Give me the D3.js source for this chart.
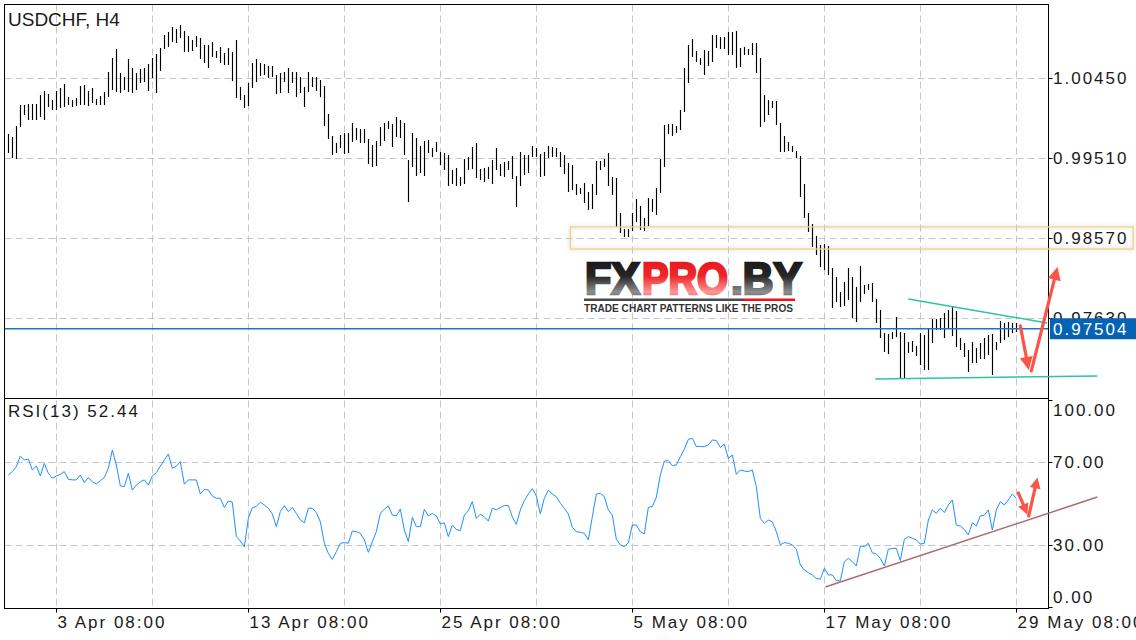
<!DOCTYPE html>
<html><head><meta charset="utf-8">
<script src="https://cdn.jsdelivr.net/npm/d3@7"></script>
<style>
html,body{margin:0;padding:0;background:#fff;}
svg{display:block;}
text{font-family:"Liberation Sans",Arial,sans-serif;}
</style></head><body>
<svg id="c" width="1136" height="640"></svg>
<script>
const symbolTitle = "USDCHF, H4";
const rsiTitle = "RSI(13) 52.44";

const highs = [
0.99792,0.99757,0.99886,1.00133,1.00133,1.00145,1.00145,1.00145,1.00251,1.00298,
1.00263,1.00192,1.00298,1.00333,1.00380,1.00227,1.00192,1.00216,1.00356,1.00368,
1.00298,1.00333,1.00204,1.00239,1.00286,1.00521,1.00686,1.00791,1.00509,1.00462,
1.00674,1.00568,1.00509,1.00556,1.00568,1.00615,1.00686,1.00733,1.00803,1.00956,
1.00991,1.01050,1.01026,1.01073,1.01003,1.00944,1.00897,1.00944,1.00921,1.00838,
1.00838,1.00874,1.00768,1.00815,1.00745,1.00803,1.00756,1.00897,1.00345,1.00251,
1.00392,1.00627,1.00674,1.00627,1.00615,1.00592,1.00592,1.00486,1.00509,1.00521,
1.00568,1.00521,1.00521,1.00462,1.00345,1.00521,1.00462,1.00462,1.00427,1.00356,
1.00028,0.99769,0.99687,0.99781,0.99804,0.99804,0.99922,0.99863,0.99851,0.99851,
0.99734,0.99663,0.99710,0.99875,0.99922,0.99945,0.99910,0.99992,0.99957,0.99922,
0.99487,0.99804,0.99745,0.99651,0.99710,0.99722,0.99628,0.99698,0.99581,0.99569,
0.99546,0.99370,0.99393,0.99288,0.99499,0.99522,0.99640,0.99687,0.99381,0.99393,
0.99405,0.99487,0.99628,0.99440,0.99464,0.99475,0.99534,0.99299,0.99581,0.99546,
0.99546,0.99651,0.99628,0.99557,0.99581,0.99651,0.99640,0.99628,0.99581,0.99546,
0.99452,0.99428,0.99205,0.99158,0.99217,0.99111,0.99205,0.99475,0.99475,0.99499,
0.99569,0.99288,0.99276,0.98865,0.98676,0.98676,0.98865,0.99029,0.98947,0.98806,
0.99041,0.99029,0.99158,0.99499,0.99898,0.99910,0.99910,0.99886,1.00075,1.00568,
1.00838,1.00909,1.00768,1.00686,1.00780,1.00768,1.00956,1.00956,1.00932,1.00932,
1.00991,1.00991,1.01003,1.00803,1.00815,1.00791,1.00862,1.00862,1.00686,1.00251,
1.00192,1.00180,1.00180,0.99922,0.99769,0.99698,0.99651,0.99593,0.99534,0.99205,
0.98865,0.98735,0.98594,0.98488,0.98500,0.98477,0.98218,0.98112,0.97936,0.98054,
0.98218,0.98112,0.97995,0.98242,0.98019,0.98030,0.98042,0.97854,0.97725,0.97454,
0.97442,0.97466,0.97642,0.97466,0.97454,0.97348,0.97360,0.97301,0.97454,0.97430,
0.97513,0.97618,0.97618,0.97630,0.97689,0.97725,0.97760,0.97713,0.97395,0.97337,
0.97254,0.97348,0.97278,0.97337,0.97395,0.97430,0.97442,0.97348,0.97595,0.97572,
0.97583,0.97572,0.97572];

const lows = [
0.99569,0.99510,0.99499,0.99875,1.00016,0.99957,0.99957,0.99957,0.99992,0.99957,
1.00110,1.00075,1.00075,1.00098,1.00110,1.00133,1.00110,1.00121,1.00133,1.00133,
1.00121,1.00157,1.00133,1.00133,1.00133,1.00227,1.00310,1.00286,1.00274,1.00310,
1.00286,1.00274,1.00310,1.00392,1.00404,1.00298,1.00451,1.00274,1.00533,1.00791,
1.00815,1.00874,1.00862,1.00921,1.00756,1.00756,1.00768,1.00815,1.00674,1.00627,
1.00568,1.00698,1.00686,1.00627,1.00603,1.00603,1.00415,1.00216,1.00192,1.00098,
1.00121,1.00333,1.00404,1.00474,1.00486,1.00451,1.00462,1.00263,1.00274,1.00404,
1.00274,1.00392,1.00227,1.00274,1.00110,1.00286,1.00345,1.00298,1.00227,0.99886,
0.99734,0.99546,0.99569,0.99628,0.99557,0.99569,0.99698,0.99722,0.99687,0.99687,
0.99440,0.99405,0.99417,0.99651,0.99710,0.99851,0.99640,0.99757,0.99745,0.99546,
0.98994,0.99405,0.99299,0.99334,0.99299,0.99569,0.99522,0.99581,0.99428,0.99370,
0.99182,0.99205,0.99182,0.99182,0.99205,0.99370,0.99381,0.99276,0.99252,0.99229,
0.99264,0.99205,0.99370,0.99299,0.99288,0.99370,0.99264,0.98935,0.99182,0.99311,
0.99334,0.99522,0.99522,0.99288,0.99299,0.99510,0.99522,0.99522,0.99405,0.99323,
0.99111,0.99135,0.99076,0.99088,0.98982,0.98900,0.98912,0.99076,0.99370,0.99405,
0.99182,0.99076,0.98700,0.98629,0.98582,0.98582,0.98653,0.98758,0.98665,0.98653,
0.98711,0.98876,0.98841,0.99100,0.99405,0.99792,0.99769,0.99804,0.99840,1.00051,
1.00392,1.00698,1.00639,1.00603,1.00486,1.00592,1.00639,1.00803,1.00791,1.00791,
1.00721,1.00721,1.00568,1.00580,1.00721,1.00721,1.00721,1.00509,0.99875,0.99933,
1.00016,1.00098,0.99898,0.99581,0.99581,0.99593,0.99581,0.99510,0.99053,0.98806,
0.98641,0.98465,0.98371,0.98230,0.98195,0.98136,0.97748,0.97819,0.97760,0.97772,
0.97842,0.97630,0.97583,0.97819,0.97913,0.97960,0.97819,0.97572,0.97395,0.97231,
0.97207,0.97383,0.97407,0.96926,0.96926,0.97219,0.97231,0.97184,0.97078,0.97019,
0.97019,0.97337,0.97490,0.97490,0.97395,0.97513,0.97419,0.97290,0.97254,0.97172,
0.96996,0.97101,0.97101,0.97148,0.97148,0.97196,0.96961,0.97254,0.97337,0.97372,
0.97407,0.97454,0.97466];

const rsi = [
63.8,65.4,67.8,72.9,71.0,71.5,66.2,68.1,63.3,69.4,
64.6,62.2,63.3,64.1,65.4,61.7,61.4,61.4,63.8,60.1,
62.6,60.5,59.4,61.0,62.6,67.0,75.8,68.6,58.5,58.1,
64.6,56.5,58.9,60.5,61.4,58.9,63.3,64.9,68.1,71.0,
73.9,67.0,68.1,70.2,59.3,61.4,61.4,61.4,54.6,56.8,
56.5,53.6,52.5,52.5,48.1,51.2,50.6,34.0,31.9,29.1,
42.8,48.0,48.5,50.6,49.3,47.7,44.9,38.8,46.1,49.0,
46.1,48.1,45.2,42.0,40.7,47.7,47.7,45.6,41.2,30.8,
25.9,23.0,26.7,30.8,31.1,30.8,36.7,36.4,35.6,32.4,
26.4,31.6,36.4,45.2,47.2,48.8,44.4,44.0,47.3,37.2,
31.6,43.3,38.8,38.8,47.2,44.0,45.2,44.0,40.1,40.7,
34.0,39.6,37.5,36.9,44.4,46.5,50.9,42.8,44.8,43.6,
41.5,47.7,46.9,48.1,49.0,49.0,43.6,39.9,46.9,51.4,
54.6,57.2,53.6,44.9,52.5,56.5,54.6,53.3,50.1,47.7,
44.9,38.5,36.4,36.1,35.6,32.4,43.6,54.6,54.9,53.3,
46.9,44.4,32.7,30.0,29.1,31.1,39.6,39.6,36.4,35.3,
48.1,48.5,53.0,63.8,70.5,70.7,68.3,68.6,72.6,76.2,
81.0,81.5,77.5,77.5,77.5,78.3,80.7,80.4,77.1,78.6,
71.8,73.4,64.1,66.2,65.7,65.4,66.2,58.1,42.8,40.4,
42.0,41.2,36.4,30.0,31.1,30.8,30.0,27.9,20.3,17.9,
16.6,15.5,13.8,13.4,18.7,15.5,15.5,12.7,12.7,21.9,
23.5,21.9,19.8,29.5,29.1,30.8,26.2,25.6,23.5,19.8,
27.9,28.3,28.3,22.4,32.7,34.0,33.2,32.4,30.4,30.8,
42.0,46.9,45.2,47.7,45.6,49.3,51.7,39.6,39.1,37.5,
34.8,40.7,39.1,44.0,44.4,46.9,37.2,46.9,50.9,49.3,
51.7,54.6,52.44];

const priceTicks = [1.00450, 0.99510, 0.98570, 0.97630];
const priceTickLabels = ["1.00450", "0.99510", "0.98570", "0.97630"];
const rsiTicks = [100, 70, 30, 0];
const rsiTickLabels = ["100.00", "70.00", "30.00", "0.00"];
const rsiGrid = [70, 30];
const timeLabels = ["3 Apr 08:00", "13 Apr 08:00", "25 Apr 08:00", "5 May 08:00", "17 May 08:00", "29 May 08:00"];
const timeLabelBars = [13, 61, 109, 157, 205, 253];
const gridBars = [13, 37, 61, 85, 109, 133, 157, 181, 205, 229, 253];
const lastPrice = 0.97504;
const lastPriceLabel = "0.97504";
const zone = {top: 0.98700, bottom: 0.98441, from: 141.5, to: 282.2};
const upperTrend = [[226, 0.97854], [260.7, 0.97572]];
const lowerTrend = [[217.75, 0.96914], [273.25, 0.96949]];
const rsiTrend = [[205.25, 9.7], [273.25, 53.1]];
const priceArrows = [[[254, 0.97537], [256.1, 0.97020]], [[256.75, 0.97008], [263.3, 0.98230]]];
const rsiArrows = [[[253.5, 55.1], [255.8, 44.6]], [[256.1, 44.0], [258.3, 62.6]]];

const svg = d3.select("#c");
const L = 4.5, R = 1048.5, T = 4.5, MB = 398.5, RB = 608.5;

const x = d3.scaleLinear().domain([0, 261]).range([4.33, 1048.33]);
const y = d3.scaleLinear().domain([0.9669, 1.01367]).range([398, 0]);
const yr = d3.scaleLinear().domain([0, 100]).range([607, 400]);
const px = i => Math.round(x(i)) + 0.5;

const defs = svg.append("defs");
defs.append("clipPath").attr("id", "clipMain").append("rect")
  .attr("x", L).attr("y", T).attr("width", R - L).attr("height", MB - T);
defs.append("clipPath").attr("id", "clipRsi").append("rect")
  .attr("x", L).attr("y", MB).attr("width", R - L).attr("height", RB - MB);
const sh = defs.append("filter").attr("id", "shadow").attr("x", "-5%").attr("y", "-50%").attr("width", "110%").attr("height", "200%");
sh.append("feDropShadow").attr("dx", 0).attr("dy", 0).attr("stdDeviation", 2).attr("flood-color", "#888").attr("flood-opacity", 0.45);

function grad(id, stops) {
  const g = defs.append("linearGradient").attr("id", id).attr("x1", 0).attr("y1", 0).attr("x2", 0).attr("y2", 1);
  stops.forEach(s => g.append("stop").attr("offset", s[0]).attr("stop-color", s[1]));
}
grad("gBlack", [["0%", "#141414"], ["45%", "#262626"], ["78%", "#8f8f8f"], ["100%", "#3c3c3c"]]);
grad("gRed", [["0%", "#e3121a"], ["45%", "#f0262a"], ["78%", "#ff9896"], ["100%", "#ee3535"]]);

// gridlines
const grid = svg.append("g").attr("stroke", "#c6c6c6").attr("stroke-width", 1).attr("stroke-dasharray", "7,4");
grid.selectAll(".vg").data(gridBars).join("line")
  .attr("x1", d => px(d)).attr("x2", d => px(d)).attr("y1", T).attr("y2", RB);
grid.selectAll(".hg").data(priceTicks).join("line")
  .attr("x1", L).attr("x2", R).attr("y1", d => Math.round(y(d)) + 0.5).attr("y2", d => Math.round(y(d)) + 0.5);
grid.selectAll(".rg").data(rsiGrid).join("line")
  .attr("x1", L).attr("x2", R).attr("y1", d => Math.round(yr(d)) + 0.5).attr("y2", d => Math.round(yr(d)) + 0.5);

// price bars
const bars = d3.range(highs.length).map(i => ({i: i + 1, h: highs[i], l: lows[i]}));
svg.append("g").attr("clip-path", "url(#clipMain)")
  .selectAll("line").data(bars).join("line")
  .attr("x1", d => px(d.i)).attr("x2", d => px(d.i))
  .attr("y1", d => y(d.h)).attr("y2", d => y(d.l))
  .attr("stroke", "#000").attr("stroke-width", 1.15);

// current price line
svg.append("line").attr("x1", L).attr("x2", R)
  .attr("y1", y(lastPrice)).attr("y2", y(lastPrice))
  .attr("stroke", "#1a74cc").attr("stroke-width", 1.6);

// RSI line
const rsiLine = d3.line().x((d, i) => x(i + 1)).y(d => yr(d));
svg.append("path").datum(rsi).attr("clip-path", "url(#clipRsi)")
  .attr("d", rsiLine).attr("fill", "none").attr("stroke", "#1e8fff").attr("stroke-width", 1);

// frames
const fr = svg.append("g").attr("stroke", "#000").attr("stroke-width", 1).attr("fill", "none");
fr.append("rect").attr("x", L).attr("y", T).attr("width", R - L).attr("height", MB - T);
fr.append("rect").attr("x", L).attr("y", MB).attr("width", R - L).attr("height", RB - MB);

// axis ticks
const ticks = svg.append("g").attr("stroke", "#000").attr("stroke-width", 1);
ticks.selectAll(".pt").data(priceTicks).join("line")
  .attr("x1", R).attr("x2", R + 4).attr("y1", d => Math.round(y(d)) + 0.5).attr("y2", d => Math.round(y(d)) + 0.5);
ticks.selectAll(".rt").data(rsiTicks).join("line")
  .attr("x1", R).attr("x2", R + 4).attr("y1", d => Math.round(yr(d)) + 0.5).attr("y2", d => Math.round(yr(d)) + 0.5);
ticks.selectAll(".tt").data(timeLabelBars).join("line")
  .attr("x1", d => px(d)).attr("x2", d => px(d)).attr("y1", RB).attr("y2", RB + 4);

// labels
const lab = {"font-size": "17px", "letter-spacing": "2px", fill: "#1a1a1a"};
function applyStyle(sel, st) { Object.entries(st).forEach(([k, v]) => sel.style(k, v)); return sel; }

applyStyle(svg.selectAll(".pl").data(priceTicks).join("text")
  .attr("x", 1053).attr("y", d => y(d) + 6).text((d, i) => priceTickLabels[i]), lab);

applyStyle(svg.selectAll(".rl").data(rsiTicks).join("text")
  .attr("x", 1053).attr("y", d => {
    const v = yr(d);
    if (d === 100) return v + 16;
    if (d === 0) return v - 4;
    return v + 6;
  }).text((d, i) => rsiTickLabels[i]), lab);

applyStyle(svg.selectAll(".tl").data(timeLabelBars).join("text")
  .attr("x", d => px(d) + 1).attr("y", 628).text((d, i) => timeLabels[i]), lab);

// current price label
const ly = y(lastPrice);
svg.append("rect").attr("x", 1050).attr("y", ly - 10.5).attr("width", 90).attr("height", 21).attr("fill", "#0663b3");
applyStyle(svg.append("text").attr("x", 1053).attr("y", ly + 6).text(lastPriceLabel), Object.assign({}, lab, {fill: "#fff"}));

// titles
svg.append("text").attr("x", 8).attr("y", 26).text(symbolTitle)
  .style("font-size", "19px").style("fill", "#1a1a1a");
applyStyle(svg.append("text").attr("x", 8).attr("y", 417).text(rsiTitle), lab);

// zone rectangle
svg.append("rect")
  .attr("x", x(zone.from)).attr("y", y(zone.top))
  .attr("width", x(zone.to) - x(zone.from)).attr("height", y(zone.bottom) - y(zone.top))
  .attr("fill", "none").attr("stroke", "#f1d27f").attr("stroke-width", 1.3)
  .attr("filter", "url(#shadow)");

// logo
const logo = svg.append("g").style("font-family", "'DejaVu Sans', sans-serif").style("font-weight", "bold");
function logoText(tx, x0, len, fill) {
  logo.append("text").attr("x", x0).attr("y", 294).text(tx)
    .attr("textLength", len).attr("lengthAdjust", "spacingAndGlyphs")
    .style("font-size", "44px").attr("fill", fill)
    .attr("stroke", fill).attr("stroke-width", 2.6).attr("stroke-linejoin", "miter");
}
logoText("FX", 585, 55, "url(#gBlack)");
logoText("PRO", 642, 86, "url(#gRed)");
logoText(".BY", 731, 71, "url(#gBlack)");
logo.append("rect").attr("x", 584).attr("y", 298.5).attr("width", 159).attr("height", 2.5).attr("fill", "#4a4a4a");
logo.append("rect").attr("x", 743).attr("y", 298.5).attr("width", 52).attr("height", 2.5).attr("fill", "#e5161e");
logo.append("text").attr("x", 584).attr("y", 311.5).text("TRADE CHART PATTERNS LIKE THE PROS")
  .attr("textLength", 209).attr("lengthAdjust", "spacingAndGlyphs")
  .style("font-size", "10.5px").attr("fill", "#333");

// trend lines
const tl = d3.line().x(d => x(d[0])).y(d => y(d[1]));
svg.append("path").attr("d", tl(upperTrend)).attr("stroke", "#2cc4a4").attr("stroke-width", 1.5).attr("fill", "none");
svg.append("path").attr("d", tl(lowerTrend)).attr("stroke", "#2cc4a4").attr("stroke-width", 1.5).attr("fill", "none");
const rl = d3.line().x(d => x(d[0])).y(d => yr(d[1]));
svg.append("path").attr("d", rl(rsiTrend)).attr("stroke", "#b06a6a").attr("stroke-width", 1.5).attr("fill", "none");

// arrows
function arrow(p0, p1, head, w) {
  const dx = p1[0] - p0[0], dy = p1[1] - p0[1];
  const len = Math.hypot(dx, dy), ux = dx / len, uy = dy / len;
  const bx = p1[0] - ux * head, by = p1[1] - uy * head;
  svg.append("line").attr("x1", p0[0]).attr("y1", p0[1]).attr("x2", bx + ux * 2).attr("y2", by + uy * 2)
    .attr("stroke", "#fa5546").attr("stroke-width", 3.2).attr("stroke-linecap", "round");
  svg.append("path").attr("d", `M${p1[0]},${p1[1]}L${bx - uy * w},${by + ux * w}L${bx + uy * w},${by - ux * w}Z`)
    .attr("fill", "#fa5546");
}
priceArrows.forEach(a => arrow([x(a[0][0]), y(a[0][1])], [x(a[1][0]), y(a[1][1])], 13, 6.5));
rsiArrows.forEach(a => arrow([x(a[0][0]), yr(a[0][1])], [x(a[1][0]), yr(a[1][1])], 11, 5.5));
</script>
</body></html>
